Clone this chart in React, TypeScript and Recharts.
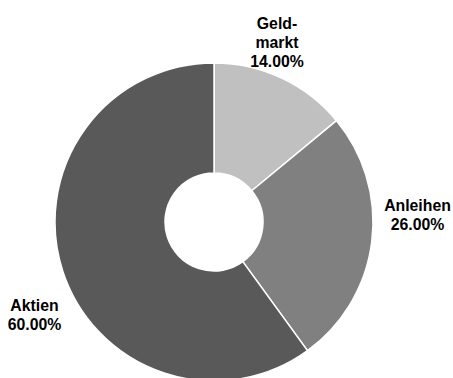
import React from "react";
import { PieChart, Pie, Cell } from "recharts";

const categories = ["Geldmarkt", "Anleihen", "Aktien"];
const labelLines = [["Geld-", "markt"], ["Anleihen"], ["Aktien"]];
const values = [14, 26, 60];
const colors = ["#c0c0c0", "#808080", "#595959"];
// label anchor offsets (first baseline) relative to pie centre
const labelOffsets: [number, number][] = [
  [63, -192.7],
  [203.5, -11],
  [-179.5, 88.7],
];

const data = categories.map((name, i) => ({ name, value: values[i] }));
const total = values.reduce((a, b) => a + b, 0);

const renderLabel = (props: any) => {
  const { cx, cy, index, value } = props;
  const [dx, dy] = labelOffsets[index];
  const lines = [...labelLines[index], `${((value / total) * 100).toFixed(2)}%`];
  return (
    <text
      x={cx + dx}
      y={cy + dy}
      textAnchor="middle"
      fill="#000"
      fontFamily="'Liberation Sans', Arial, sans-serif"
      fontWeight="bold"
      fontSize={15.8}
    >
      {lines.map((l, i) => (
        <tspan key={i} x={cx + dx} dy={i === 0 ? 0 : 19}>
          {l}
        </tspan>
      ))}
    </text>
  );
};

export default function App() {
  return (
    <div style={{ position: "absolute", left: 0, top: 0, width: 453, height: 378, background: "#fff" }}>
      <PieChart width={453} height={378} margin={{ top: 0, right: 0, bottom: 0, left: 0 }}>
        <Pie
          data={data}
          dataKey="value"
          nameKey="name"
          cx={214}
          cy={222}
          innerRadius={49}
          outerRadius={159}
          startAngle={90}
          endAngle={-270}
          stroke="#fff"
          strokeWidth={1.5}
          label={renderLabel}
          labelLine={false}
          isAnimationActive={false}
        >
          {data.map((d, i) => (
            <Cell key={d.name} fill={colors[i]} />
          ))}
        </Pie>
      </PieChart>
    </div>
  );
}
